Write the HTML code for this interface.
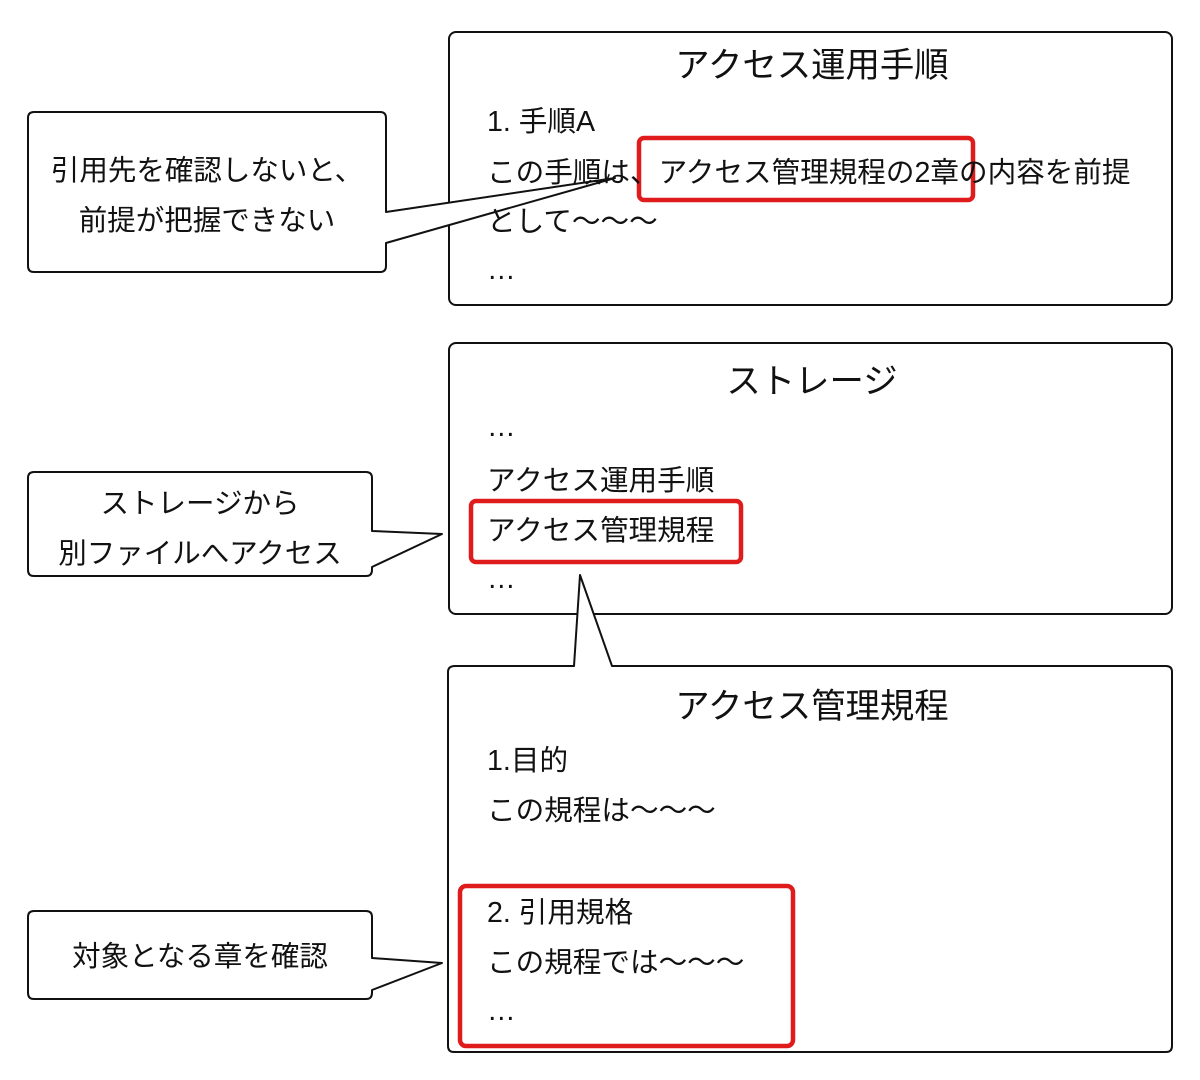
<!DOCTYPE html>
<html><head><meta charset="utf-8"><style>
html,body{margin:0;padding:0;background:#fff;}
svg text{font-family:"Liberation Sans","Noto Sans CJK JP",sans-serif;fill:#111;}
</style></head><body>
<svg width="1200" height="1075" viewBox="0 0 1200 1075" xmlns="http://www.w3.org/2000/svg">
<g fill="#fff" stroke="#111" stroke-width="2" stroke-linejoin="round">
<rect x="449" y="32" width="723" height="273" rx="7"/>
<rect x="449" y="343" width="723" height="271" rx="7"/>
<path d="M455,666 L574,666 L580,575 L612,666 L1166,666 Q1172,666 1172,672 L1172,1046 Q1172,1052 1166,1052 L454,1052 Q448,1052 448,1046 L448,672 Q448,666 455,666 Z"/>
<path d="M34,112 L380,112 Q386,112 386,118 L386,212 L615,178 L386,243 L386,266 Q386,272 380,272 L34,272 Q28,272 28,266 L28,118 Q28,112 34,112 Z"/>
<path d="M34,472 L366,472 Q372,472 372,478 L372,531 L442,534 L372,567 L372,570 Q372,576 366,576 L34,576 Q28,576 28,570 L28,478 Q28,472 34,472 Z"/>
<path d="M34,911 L366,911 Q372,911 372,917 L372,958 L442,963 L372,990 L372,993 Q372,999 366,999 L34,999 Q28,999 28,993 L28,917 Q28,911 34,911 Z"/>
</g>
<g fill="none" stroke="#e01b1b" stroke-width="4.5">
<rect x="639" y="138" width="334" height="62" rx="5"/>
<rect x="471" y="501" width="270" height="61" rx="5"/>
<rect x="460" y="886" width="333" height="160" rx="6"/>
</g>
<g font-size="34.4" text-anchor="middle">
<text x="812" y="77">アクセス運用手順</text>
<text x="812" y="393">ストレージ</text>
<text x="812" y="718">アクセス管理規程</text>
</g>
<g font-size="28.6">
<text x="487" y="131">1. 手順A</text>
<text x="487" y="182">この手順は、アクセス管理規程の2章の内容を前提</text>
<text x="487" y="231">として～～～</text>
<text x="487" y="279">…</text>
<text x="487" y="436">…</text>
<text x="487" y="490">アクセス運用手順</text>
<text x="487" y="540">アクセス管理規程</text>
<text x="487" y="588">…</text>
<text x="487" y="770">1.目的</text>
<text x="487" y="820">この規程は～～～</text>
<text x="487" y="922">2. 引用規格</text>
<text x="487" y="972">この規程では～～～</text>
<text x="487" y="1020">…</text>
</g>
<g font-size="28.5" text-anchor="middle">
<text x="207" y="180">引用先を確認しないと、</text>
<text x="207" y="230">前提が把握できない</text>
<text x="200" y="513">ストレージから</text>
<text x="200" y="563">別ファイルへアクセス</text>
<text x="200" y="966">対象となる章を確認</text>
</g>
</svg>
</body></html>
